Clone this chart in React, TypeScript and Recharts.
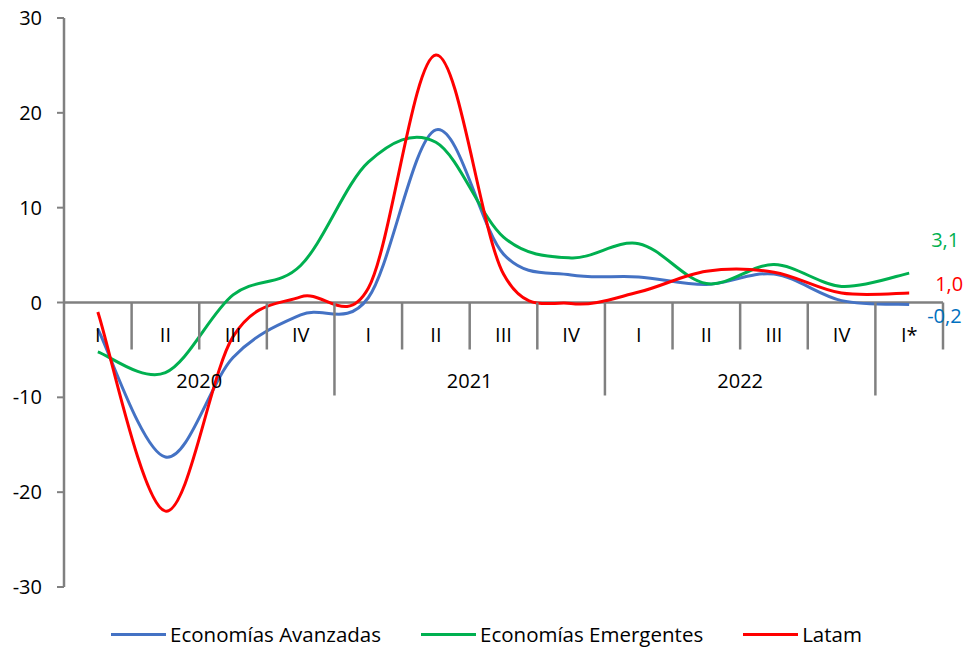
import React from 'react';
import { LineChart, Line, XAxis, YAxis, ReferenceLine } from 'recharts';

// Quarterly growth, 2020 Q1 .. 2023 Q1
const quarters = ['I', 'II', 'III', 'IV', 'I', 'II', 'III', 'IV', 'I', 'II', 'III', 'IV', 'I*'];
const years = ['2020', '2021', '2022', ''];
const avanzadas = [-2.8, -16.3, -5.8, -1.3, 0.5, 18.2, 5.1, 2.9, 2.7, 1.9, 3.0, 0.2, -0.2];
const emergentes = [-5.2, -7.4, 0.8, 3.9, 14.8, 16.9, 6.9, 4.7, 6.2, 2.0, 4.0, 1.7, 3.1];
const latam = [-1.0, -22.0, -3.6, 0.6, 1.5, 26.1, 3.0, -0.1, 1.1, 3.3, 3.2, 1.0, 1.0];
const yTicks = [-30, -20, -10, 0, 10, 20, 30];

const data = quarters.map((q, i) => ({
  key: `${i}`,
  q,
  year: years[Math.floor(i / 4)],
  avanzadas: avanzadas[i],
  emergentes: emergentes[i],
  latam: latam[i],
}));

const W = 963;
const H = 650;
const M = { top: 18, right: 20, left: 0, bottom: 62 };
const Y_AXIS_W = 64;
const PLOT_W = W - M.left - M.right - Y_AXIS_W;
const PLOT_H = H - M.top - M.bottom - 1;
const ZERO_Y = M.top + PLOT_H / 2;
const BAND = PLOT_W / quarters.length;
const FONT = '"Open Sans", sans-serif';
const GRAY = '#808080';

// Excel-like smoothed line (Catmull-Rom through the points)
const excelCurve = (context: any) => {
  let pts: number[][] = [];
  return {
    areaStart() {},
    areaEnd() {},
    lineStart() {
      pts = [];
    },
    lineEnd() {
      if (!pts.length) return;
      context.moveTo(pts[0][0], pts[0][1]);
      for (let i = 0; i < pts.length - 1; i++) {
        const p0 = pts[Math.max(i - 1, 0)];
        const p1 = pts[i];
        const p2 = pts[i + 1];
        const p3 = pts[Math.min(i + 2, pts.length - 1)];
        context.bezierCurveTo(
          p1[0] + (p2[0] - p0[0]) / 6,
          p1[1] + (p2[1] - p0[1]) / 6,
          p2[0] - (p3[0] - p1[0]) / 6,
          p2[1] - (p3[1] - p1[1]) / 6,
          p2[0],
          p2[1]
        );
      }
    },
    point(x: number, y: number) {
      pts.push([+x, +y]);
    },
  };
};

const QuarterTick = (props: any) => {
  const { x, payload } = props;
  const i = Number(payload.value);
  const d = data[i];
  const yearEnd = i % 4 === 3;
  const edge = x + BAND / 2;
  return (
    <g>
      <text x={x} y={ZERO_Y + 32} textAnchor="middle" dominantBaseline="central" fontSize={20} fontFamily={FONT} fill="#000">
        {d.q}
      </text>
      <line x1={edge} x2={edge} y1={ZERO_Y} y2={yearEnd ? ZERO_Y + 93 : ZERO_Y + 47} stroke={GRAY} strokeWidth={2.5} />
      {i % 4 === 1 && d.year ? (
        <text x={edge} y={ZERO_Y + 78} textAnchor="middle" dominantBaseline="central" fontSize={20} fontFamily={FONT} fill="#000">
          {d.year}
        </text>
      ) : null}
    </g>
  );
};

const endLabel = (color: string, dx: number, dy: number) => (props: any) => {
  const { x, y, index, value } = props;
  if (index !== quarters.length - 1) return null;
  return (
    <text x={x + dx} y={y + dy} dominantBaseline="central" fontSize={20} fontFamily={FONT} fill={color}>
      {String(value.toFixed(1)).replace('.', ',')}
    </text>
  );
};

const legendItems = [
  { name: 'Economías Avanzadas', color: '#4472C4' },
  { name: 'Economías Emergentes', color: '#00B050' },
  { name: 'Latam', color: '#FF0000' },
];

export default function App() {
  return (
    <div style={{ position: 'absolute', left: 0, top: 0, width: W, height: H, background: '#fff' }}>
      <LineChart width={W} height={H} data={data} margin={M}>
        <XAxis
          dataKey="key"
          scale="band"
          height={1}
          interval={0}
          axisLine={false}
          tickLine={false}
          tick={<QuarterTick />}
        />
        <YAxis
          width={Y_AXIS_W}
          domain={[-30, 30]}
          ticks={yTicks}
          interval={0}
          axisLine={{ stroke: GRAY, strokeWidth: 2.5 }}
          tickLine={{ stroke: GRAY, strokeWidth: 2 }}
          tickSize={7}
          tickMargin={15}
          tick={{ fill: '#000', fontSize: 20, fontFamily: FONT }}
        />
        <ReferenceLine y={0} stroke={GRAY} strokeWidth={2.5} />
        <Line
          dataKey="avanzadas"
          type={excelCurve as any}
          stroke="#4472C4"
          strokeWidth={3}
          dot={false}
          isAnimationActive={false}
          label={endLabel('#0070C0', 18, 11)}
        />
        <Line
          dataKey="emergentes"
          type={excelCurve as any}
          stroke="#00B050"
          strokeWidth={3}
          dot={false}
          isAnimationActive={false}
          label={endLabel('#00B050', 22, -34)}
        />
        <Line
          dataKey="latam"
          type={excelCurve as any}
          stroke="#FF0000"
          strokeWidth={3}
          dot={false}
          isAnimationActive={false}
          label={endLabel('#FF0000', 26, -10)}
        />
      </LineChart>
      <div
        style={{
          position: 'absolute',
          top: 622,
          left: 0,
          width: W,
          height: 24,
          display: 'flex',
          justifyContent: 'center',
          alignItems: 'center',
          gap: 40,
          fontFamily: FONT,
          fontSize: 20.5,
          lineHeight: '24px',
          paddingLeft: 10,
          boxSizing: 'border-box',
        }}
      >
        {legendItems.map((it) => (
          <div key={it.name} style={{ display: 'flex', alignItems: 'center', height: 24 }}>
            <span style={{ display: 'inline-block', width: 55, height: 3, background: it.color, marginRight: 4 }} />
            <span>{it.name}</span>
          </div>
        ))}
      </div>
    </div>
  );
}
